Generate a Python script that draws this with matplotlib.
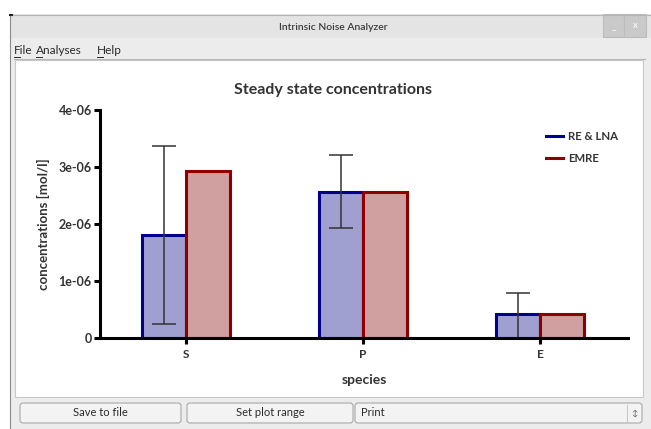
import numpy as np
import matplotlib
matplotlib.use("Agg")
import matplotlib.pyplot as plt
from matplotlib.patches import Rectangle, FancyBboxPatch
from matplotlib.lines import Line2D

# data
species = ["S", "P", "E"]
re_lna = [1.80e-06, 2.57e-06, 0.42e-06]
re_lna_err = [1.56e-06, 0.645e-06, 0.37e-06]
emre = [2.93e-06, 2.57e-06, 0.42e-06]
y_ticks = [0, 1e-06, 2e-06, 3e-06, 4e-06]
y_tick_labels = ["0", "1e-06", "2e-06", "3e-06", "4e-06"]
menu_items = ["File", "Analyses", "Help"]
menu_x = [14, 36, 97]
button_labels = ["Save to file", "Set plot range", "Print"]

W, H = 651, 429
plt.rcParams['font.family'] = ['Lato', 'DejaVu Sans']
fig = plt.figure(figsize=(W / 100, H / 100), dpi=100)
fig.patch.set_facecolor("white")

# window chrome, drawn in pixel coordinates
bg = fig.add_axes([0, 0, 1, 1], zorder=0)
bg.set_xlim(0, W)
bg.set_ylim(H, 0)
bg.axis("off")

def box(x0, y0, x1, y1, fc, ec="none", lw=0.8):
    bg.add_patch(Rectangle((x0, y0), x1 - x0, y1 - y0, facecolor=fc, edgecolor=ec, linewidth=lw))

box(10, 14, 651, 429, "#ececec")
box(10, 14, 651, 38, "#e4e4e4")
bg.plot([10, 10], [14, 429], color="#8a8a8a", lw=0.8)
bg.plot([10, 651], [14.5, 14.5], color="#b5b5b5", lw=0.8)
bg.plot([10, 12], [14.5, 14.5], color="#222222", lw=1.5)
# title bar buttons
box(603, 14, 624, 37, "#c9c9c9", "#bcbcbc")
box(624, 14, 646, 37, "#c9c9c9", "#bcbcbc")
bg.text(613.5, 27, "_", ha="center", va="center", color="white", fontsize=7)
bg.text(635, 26, "x", ha="center", va="center", color="white", fontsize=7)
bg.text(333, 27, "Intrinsic Noise Analyzer", ha="center", va="center",
        color="#3a3a3a", fontsize=7.5, fontweight="semibold")

# menu bar, first letter underlined
for item, mx in zip(menu_items, menu_x):
    bg.text(mx, 50, item, ha="left", va="center", color="#2a2a2a", fontsize=8.5)
    bg.plot([mx, mx + 5.5], [56.5, 56.5], color="#2a2a2a", lw=0.7)

# white plot panel
bg.plot([14, 645], [59, 59], color="#b8b8b8", lw=0.8)
box(15, 60, 643, 397, "white", "#c8c8c8")

# bottom buttons
buttons = [(20, 181), (187, 353), (355, 642)]
for (x0, x1), lab in zip(buttons, button_labels):
    bg.add_patch(FancyBboxPatch((x0, 403), x1 - x0, 20, boxstyle="round,pad=0,rounding_size=3",
                                facecolor="#f3f3f3", edgecolor="#a9a9a9", linewidth=0.8))
    if lab == "Print":
        bg.text(x0 + 6, 413, lab, ha="left", va="center", color="#2a2a2a", fontsize=8)
        bg.plot([627, 627], [405, 421], color="#c8c8c8", lw=0.8)
        bg.text(634, 413, "\u2195", ha="center", va="center", color="#555555", fontsize=6)
    else:
        bg.text((x0 + x1) / 2, 413, lab, ha="center", va="center", color="#2a2a2a", fontsize=8)

# chart
ax = fig.add_axes([100 / W, (H - 338) / H, 528 / W, 228 / H], zorder=1)
ax.patch.set_alpha(0)
x = np.arange(len(species))
w = 0.25
ax.bar(x - w / 2, re_lna, w, color="#a0a0d0", edgecolor="#00008c", linewidth=2.2, zorder=2)
ax.bar(x + w / 2, emre, w, color="#d0a0a0", edgecolor="#8c0000", linewidth=2.2, zorder=2)
# lower whisker is clipped at zero where it would run into the axis
lower = [e if v - e > 0.1e-06 else v for v, e in zip(re_lna, re_lna_err)]
ax.errorbar(x - w / 2, re_lna, yerr=[lower, re_lna_err], fmt="none", ecolor="#333333",
            elinewidth=1.1, capsize=8.3, capthick=1.1, zorder=3)

ax.set_xlim(-0.486, 2.497)
ax.set_ylim(0, 4e-06)
ax.set_xticks(x)
ax.set_xticklabels(species)
ax.set_yticks(y_ticks)
ax.set_yticklabels(y_tick_labels)
for side in ["top", "right"]:
    ax.spines[side].set_visible(False)
for side in ["left", "bottom"]:
    ax.spines[side].set_linewidth(2.2)
    ax.spines[side].set_zorder(4)
ax.tick_params(axis="both", width=2.2, length=4, color="black", labelcolor="#333333", pad=2)
ax.tick_params(axis="y", labelsize=9)
ax.tick_params(axis="x", labelsize=8.5, pad=4)
for lab in ax.get_xticklabels() + ax.get_yticklabels():
    lab.set_fontweight("bold")

ax.set_xlabel("species", fontsize=10, fontweight="bold", color="#333333", labelpad=10)
ax.set_ylabel("concentrations [mol/l]", fontsize=9.5, fontweight="bold", color="#333333", labelpad=6)
fig.text(333 / W, 1 - 90 / H, "Steady state concentrations", ha="center", va="center",
         fontsize=11.5, fontweight="bold", color="#333333")

handles = [Line2D([], [], color="#00008c", lw=2.2), Line2D([], [], color="#8c0000", lw=2.2)]
ax.legend(handles, ["RE & LNA", "EMRE"], loc="upper left", frameon=False,
          bbox_to_anchor=(541 / W, 1 - 126 / H), bbox_transform=fig.transFigure,
          handlelength=1.5, handletextpad=0.5, labelspacing=1.0, borderaxespad=0,
          prop={"size": 8.2, "weight": "bold"}, labelcolor="#333333")

fig.savefig("out.png", dpi=100, facecolor=fig.get_facecolor())
